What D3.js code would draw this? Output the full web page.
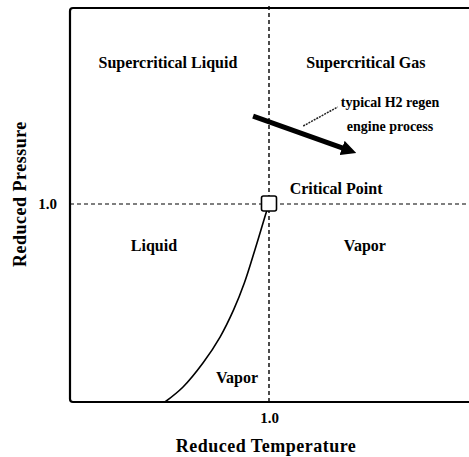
<!DOCTYPE html>
<html>
<head>
<meta charset="utf-8">
<script src="https://cdn.jsdelivr.net/npm/d3@7"></script>
<style>
  body { margin: 0; background: #fff; }
  text { font-family: "Liberation Serif", "Times New Roman", serif; font-weight: bold; fill: #000; }
</style>
</head>
<body>
<svg id="thesvg" width="469" height="457"></svg>
<script>
'use strict';

// saturation (vapor pressure) curve, reduced T vs reduced P
let curveTr = [0.477, 0.568, 0.668, 0.754, 0.822, 0.876, 0.929, 0.982, 1.0],
    curvePr = [0.0, 0.076, 0.197, 0.328, 0.465, 0.601, 0.768, 0.944, 1.0];

// critical point
let critTr = 1.0, critPr = 1.0;

// typical H2 regen engine process arrow (start, end)
let processTr = [0.92, 1.41],
    processPr = [1.444, 1.268];

// leader from annotation to arrow
let leaderTr = [1.172, 1.345],
    leaderPr = [1.394, 1.49];

// region labels
let regionNames = ["Supercritical Liquid", "Supercritical Gas", "Critical Point", "Liquid", "Vapor", "Vapor"],
    regionTr    = [0.492, 1.487, 1.337, 0.422, 1.482, 0.839],
    regionPr    = [1.687, 1.687, 1.05, 0.763, 0.763, 0.096];

let noteLines = ["typical H2 regen", "engine process"],
    noteTr = 1.608,
    notePr = [1.49, 1.369];

let xTicks = [1.0], yTicks = [1.0];

var svg = d3.select("#thesvg"),
    width = +svg.attr("width"),
    height = +svg.attr("height"),
    x = d3.scaleLinear().domain([0, 2]).range([70, 468]),
    y = d3.scaleLinear().domain([0, 2]).range([402, 6]);

var defs = svg.append("defs");
defs.append("marker")
    .attr("id", "head")
    .attr("viewBox", "0 -5 10 10")
    .attr("refX", 6)
    .attr("refY", 0)
    .attr("markerWidth", 3)
    .attr("markerHeight", 3)
    .attr("orient", "auto")
  .append("path")
    .attr("d", "M0,-5L10,0L0,5Z")
    .attr("fill", "#000");

// dashed reference lines through the critical point
svg.append("line")
    .attr("x1", x(critTr)).attr("x2", x(critTr))
    .attr("y1", y(2)).attr("y2", y(0))
    .attr("stroke", "#000").attr("stroke-width", 1.4)
    .attr("stroke-dasharray", "4,3");
svg.append("line")
    .attr("x1", x(0)).attr("x2", width)
    .attr("y1", y(critPr)).attr("y2", y(critPr))
    .attr("stroke", "#000").attr("stroke-width", 1.2)
    .attr("stroke-dasharray", "4,3");

// frame (open on the right)
svg.append("path")
    .attr("d", "M" + width + "," + (y(2) + 2) + "H" + (x(0) + 3) +
               "Q" + x(0) + "," + (y(2) + 2) + " " + x(0) + "," + (y(2) + 5) +
               "V" + (y(0) - 3) + "Q" + x(0) + "," + y(0) + " " + (x(0) + 3) + "," + y(0) +
               "H" + width)
    .attr("fill", "none")
    .attr("stroke", "#000")
    .attr("stroke-width", 2.2);

// axes: only the 1.0 ticks
svg.append("g")
    .attr("transform", "translate(0," + y(0) + ")")
    .call(d3.axisBottom(x).tickValues(xTicks).tickSize(0).tickPadding(10).tickFormat(d3.format(".1f")))
    .call(g => g.select(".domain").remove())
    .selectAll("text").style("font-size", "15px");

svg.append("g")
    .attr("transform", "translate(" + x(0) + ",0)")
    .call(d3.axisLeft(y).tickValues(yTicks).tickSize(0).tickPadding(13).tickFormat(d3.format(".1f")))
    .call(g => g.select(".domain").remove())
    .selectAll("text").style("font-size", "15px");

svg.append("text")
    .attr("x", x(1.0) - 3)
    .attr("y", 452)
    .attr("text-anchor", "middle")
    .style("font-size", "18px")
    .style("letter-spacing", "0.5px")
    .text("Reduced Temperature");

svg.append("text")
    .attr("transform", "translate(26," + y(1.05) + ") rotate(-90)")
    .attr("text-anchor", "middle")
    .style("font-size", "18px")
    .style("letter-spacing", "0.5px")
    .text("Reduced Pressure");

// saturation curve
var line = d3.line()
    .x(function(d) { return x(d[0]); })
    .y(function(d) { return y(d[1]); })
    .curve(d3.curveCatmullRom.alpha(0.5));

svg.append("path")
    .datum(d3.zip(curveTr, curvePr))
    .attr("d", line)
    .attr("fill", "none")
    .attr("stroke", "#000")
    .attr("stroke-width", 1.6);

// critical point marker
svg.append("rect")
    .attr("x", x(critTr) - 7.5)
    .attr("y", y(critPr) - 8)
    .attr("width", 15)
    .attr("height", 15)
    .attr("rx", 2)
    .attr("fill", "#fff")
    .attr("stroke", "#000")
    .attr("stroke-width", 1.6);

// process arrow
svg.append("line")
    .attr("x1", x(processTr[0])).attr("y1", y(processPr[0]))
    .attr("x2", x(processTr[1])).attr("y2", y(processPr[1]))
    .attr("stroke", "#000")
    .attr("stroke-width", 5)
    .attr("marker-end", "url(#head)");

// leader line
svg.append("line")
    .attr("x1", x(leaderTr[0])).attr("y1", y(leaderPr[0]))
    .attr("x2", x(leaderTr[1])).attr("y2", y(leaderPr[1]))
    .attr("stroke", "#222")
    .attr("stroke-width", 1.5)
    .attr("stroke-dasharray", "2,1");

// region labels
svg.selectAll(".region")
    .data(regionNames)
  .enter().append("text")
    .attr("class", "region")
    .attr("x", function(d, i) { return x(regionTr[i]); })
    .attr("y", function(d, i) { return y(regionPr[i]); })
    .attr("text-anchor", "middle")
    .style("font-size", "16px")
    .text(function(d) { return d; });

svg.selectAll(".note")
    .data(noteLines)
  .enter().append("text")
    .attr("class", "note")
    .attr("x", x(noteTr))
    .attr("y", function(d, i) { return y(notePr[i]); })
    .attr("text-anchor", "middle")
    .style("font-size", "14px")
    .text(function(d) { return d; });
</script>
</body>
</html>
